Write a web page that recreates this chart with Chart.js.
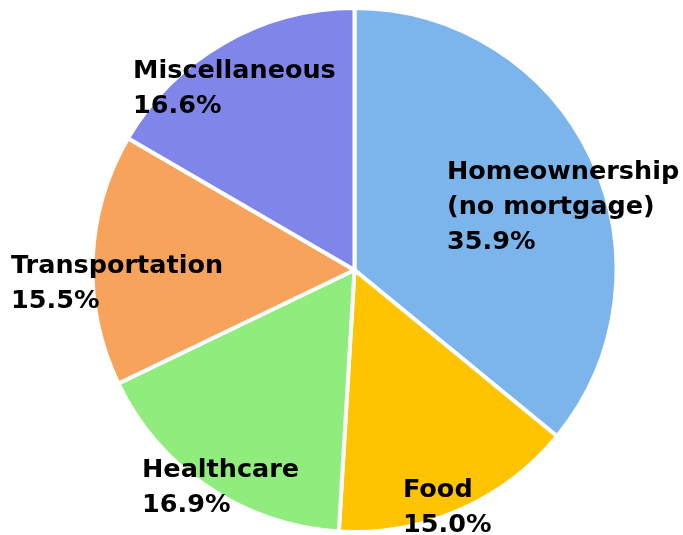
<!DOCTYPE html>
<html>
<head>
<meta charset="utf-8">
<script src="https://cdn.jsdelivr.net/npm/chart.js@4/dist/chart.umd.min.js"></script>
<style>
    body { margin: 0; background: #fff; }
    #wrap { width: 683px; height: 535px; }
</style>
</head>
<body>
<div id="wrap"><canvas id="budgetPie"></canvas></div>
<script>
// Categories and shares (%)
const categories = ['Homeownership\n(no mortgage)', 'Food', 'Healthcare', 'Transportation', 'Miscellaneous'];
const shares = [35.9, 15.0, 16.9, 15.5, 16.6];
const sliceColors = ['#7cb5ec', '#ffc300', '#90ed7d', '#f7a35c', '#8085e9'];

// Where each label's first baseline sits, relative to pie centre, in units of radius
const labelOffsets = [
    [0.353, -0.347],
    [0.185, 0.866],
    [-0.811, 0.790],
    [-1.311, 0.011],
    [-0.845, -0.733]
];

// Draws the labels on top of the slices
const sliceLabels = {
    id: 'sliceLabels',
    afterDatasetsDraw(chart) {
        const ctx = chart.ctx;
        const arcs = chart.getDatasetMeta(0).data;
        ctx.save();
        ctx.font = 'bold 25.5px "DejaVu Sans"';
        ctx.fillStyle = '#000';
        ctx.textAlign = 'left';
        ctx.textBaseline = 'alphabetic';
        arcs.forEach((arc, i) => {
            const r = arc.outerRadius;
            const x = arc.x + labelOffsets[i][0] * r;
            let y = arc.y + labelOffsets[i][1] * r;
            const lines = categories[i].split('\n');
            lines.push(shares[i].toFixed(1) + '%');
            lines.forEach(line => {
                ctx.fillText(line, x, y);
                y += 35;
            });
        });
        ctx.restore();
    }
};

const ctx = document.getElementById('budgetPie').getContext('2d');
new Chart(ctx, {
    type: 'pie',
    data: {
        labels: categories,
        datasets: [{
            data: shares,
            backgroundColor: sliceColors,
            borderColor: '#ffffff',
            borderWidth: 4
        }]
    },
    options: {
        responsive: true,
        maintainAspectRatio: false,
        animation: false,
        layout: {
            padding: { top: 6, bottom: 1, left: 26, right: 0 }
        },
        plugins: {
            legend: { display: false },
            tooltip: { enabled: false }
        }
    },
    plugins: [sliceLabels]
});
</script>
</body>
</html>
